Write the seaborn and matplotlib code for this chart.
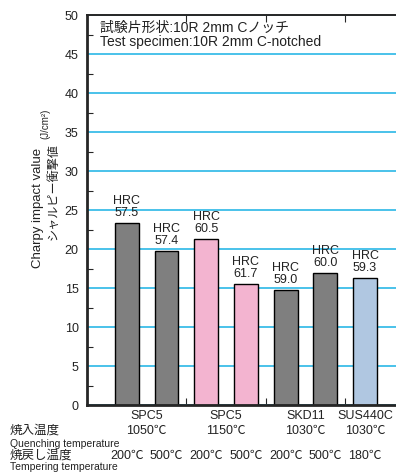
import pandas as pd
import seaborn as sns
import matplotlib.pyplot as plt
import matplotlib.transforms as mtransforms
from matplotlib.ticker import MultipleLocator, FixedLocator

# data
bar_ids = ["SPC5-1050-200", "SPC5-1050-500", "SPC5-1150-200", "SPC5-1150-500",
           "SKD11-1030-200", "SKD11-1030-500", "SUS440C-1030-180"]
impact = [23.4, 19.8, 21.3, 15.5, 14.8, 17.0, 16.3]
hrc = ["57.5", "57.4", "60.5", "61.7", "59.0", "60.0", "59.3"]
tempering = ["200℃", "500℃", "200℃", "500℃", "200℃", "500℃", "180℃"]
bar_colors = ["#7f7f7f", "#7f7f7f", "#f3b4d0", "#f3b4d0", "#7f7f7f", "#7f7f7f", "#b0c7e1"]

groups = ["SPC5", "SPC5", "SKD11", "SUS440C"]
quenching = ["1050℃", "1150℃", "1030℃", "1030℃"]
group_center = [0.5, 2.5, 4.5, 6.0]
group_sep = [1.5, 3.5, 5.5]

df = pd.DataFrame({"bar": bar_ids, "impact": impact})

sns.set_style("ticks")
plt.rcParams["font.family"] = ["Liberation Sans", "Noto Sans CJK JP"]
plt.rcParams["text.color"] = "#222222"

fig = plt.figure(figsize=(3.96, 4.73), dpi=100)
ax = fig.add_axes([87 / 396, 68 / 473, 309 / 396, 389.5 / 473])

sns.barplot(data=df, x="bar", y="impact", hue="bar", palette=bar_colors,
            saturation=1, width=0.6, edgecolor="black", linewidth=1.0,
            legend=False, ax=ax)

ax.set_xlim(-1.0, 6.78)
ax.set_ylim(0, 50)
ax.set_axisbelow(True)
ax.yaxis.set_major_locator(MultipleLocator(5))
ax.yaxis.set_minor_locator(MultipleLocator(2.5))
ax.grid(axis="y", which="major", color="#3bbde8", linewidth=1.3)
ax.tick_params(axis="y", which="major", length=0, labelsize=9, pad=6, labelcolor="#222222")
ax.tick_params(axis="y", which="minor", direction="in", length=4, width=0.8)
ax.xaxis.set_major_locator(FixedLocator(group_sep))
ax.tick_params(axis="x", which="major", direction="in", length=5, width=0.8,
               top=True, labelbottom=False)
ax.set_xlabel("")
ax.set_ylabel("")
for side in ["left", "bottom"]:
    ax.spines[side].set_linewidth(2.0)
ax.spines["top"].set_linewidth(1.4)
ax.spines["right"].set_visible(False)

for i, (v, h) in enumerate(zip(impact, hrc)):
    ax.text(i, v + 0.5, f"HRC\n{h}", ha="center", va="bottom", fontsize=9,
            linespacing=1.0)

ax.text(0.043, 0.985, "試験片形状:10R 2mm Cノッチ\nTest specimen:10R 2mm C-notched",
        transform=ax.transAxes, ha="left", va="top", fontsize=10, linespacing=1.0)

# y-axis label pieces
fig.text(38 / 396, 1 - 208 / 473, "Charpy impact value", rotation=90,
         ha="center", va="center", fontsize=9.5)
fig.text(54 / 396, 1 - 192 / 473, "シャルピー衝撃値", rotation=90,
         ha="center", va="center", fontsize=8.7)
fig.text(45 / 396, 1 - 124 / 473, "(J/cm²)", rotation=90,
         ha="center", va="center", fontsize=7)

# labels under the axis
trans = mtransforms.blended_transform_factory(ax.transData, fig.transFigure)
for c, g, q in zip(group_center, groups, quenching):
    fig.text(c, 1 - 416 / 473, g, transform=trans, ha="center", va="center", fontsize=9)
    fig.text(c, 1 - 431 / 473, q, transform=trans, ha="center", va="center", fontsize=9)
for i, t in enumerate(tempering):
    fig.text(i, 1 - 456 / 473, t, transform=trans, ha="center", va="center", fontsize=9)

fig.text(10 / 396, 1 - 431 / 473, "焼入温度", ha="left", va="center", fontsize=9)
fig.text(10 / 396, 1 - 444 / 473, "Quenching temperature", ha="left", va="center", fontsize=7.5)
fig.text(10 / 396, 1 - 456 / 473, "焼戻し温度", ha="left", va="center", fontsize=9)
fig.text(10 / 396, 1 - 467 / 473, "Tempering temperature", ha="left", va="center", fontsize=7.5)

fig.savefig("out.png", dpi=100)
